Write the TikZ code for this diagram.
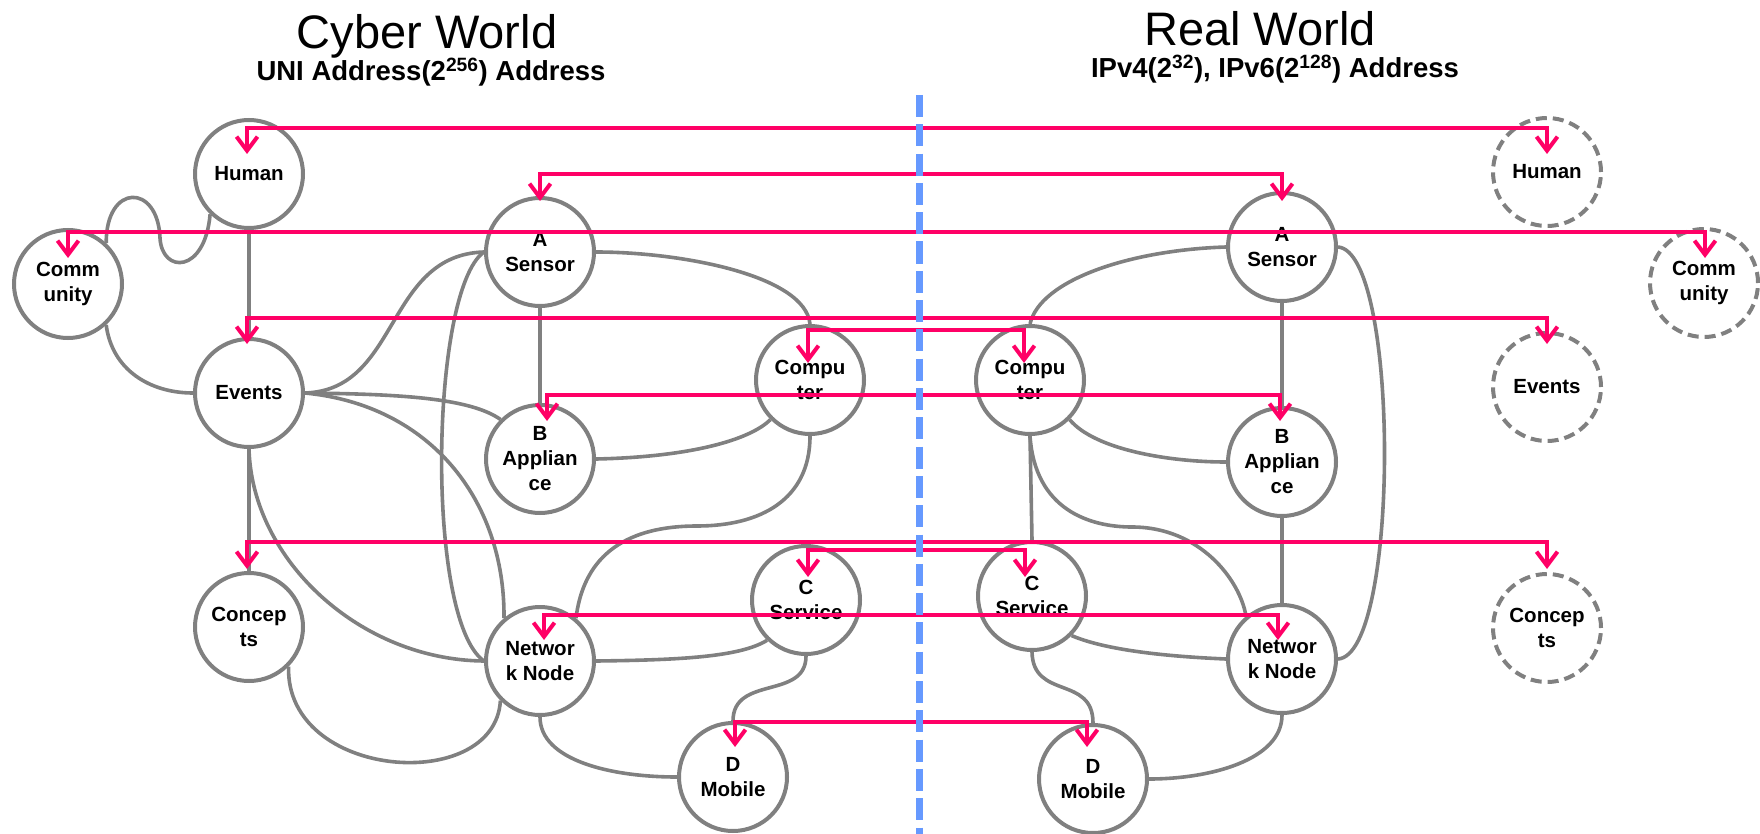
\documentclass[tikz,border=0pt]{standalone}
\usepackage{fontspec}
\setmainfont{Liberation Sans}
\usetikzlibrary{arrows.meta}
\definecolor{linkgray}{HTML}{808080}
\definecolor{tiered}{HTML}{FF0066}
\definecolor{splitblue}{HTML}{6699FF}

\begin{document}
\begin{tikzpicture}[x=1pt,y=-1pt,
  world/.style={circle, draw=linkgray, line width=4pt, fill=white,
    minimum size=108pt, inner sep=0pt, align=center,
    font=\fontsize{20.5}{25}\selectfont\bfseries},
  ghost/.style={world, dash pattern=on 11pt off 6pt},
  link/.style={draw=linkgray, line width=3.6pt},
  tie/.style={draw=tiered, line width=4pt,
    {Straight Barb[length=14pt,width=21pt]}-{Straight Barb[length=14pt,width=21pt]}},
  divider/.style={draw=splitblue, line width=7pt, dash pattern=on 22pt off 7.3pt},
  headline/.style={anchor=base, font=\fontsize{47}{50}\selectfont},
  subline/.style={anchor=base, font=\fontsize{27.5}{30}\selectfont\bfseries},
]
\useasboundingbox (0,0) rectangle (1760,834);

% headings
\node[headline] (cyberTitle) at (427,49) {Cyber World};
\node[subline] (cyberAddr) at (431,81) {UNI Address(2\textsuperscript{256}) Address};
\node[headline] (realTitle) at (1260,46) {Real World};
\node[subline] (realAddr) at (1275,78) {IPv4(2\textsuperscript{32}), IPv6(2\textsuperscript{128}) Address};

% cyber-world entities
\node[world] (cHuman)    at (249,174) {Human};
\node[world] (cComm)     at (68,284)  {Comm\\unity};
\node[world] (cEvents)   at (249,393) {Events};
\node[world] (cConcepts) at (249,627) {Concep\\ts};
\node[world] (cA)        at (540,252) {A\\Sensor};
\node[world] (cB)        at (540,459) {B\\Applian\\ce};
\node[world] (cComp)     at (810,380) {Compu\\ter};
\node[world] (cNet)      at (540,661) {Networ\\k Node};
\node[world] (cServ)     at (806,600) {C\\Service};
\node[world] (cMob)      at (733,777) {D\\Mobile};

% real-world entities
\node[world] (rA)    at (1282,247) {A\\Sensor};
\node[world] (rB)    at (1282,462) {B\\Applian\\ce};
\node[world] (rComp) at (1030,380) {Compu\\ter};
\node[world] (rServ) at (1032,596) {C\\Service};
\node[world] (rNet)  at (1282,659) {Networ\\k Node};
\node[world] (rMob)  at (1093,779) {D\\Mobile};
\node[ghost] (rHuman)    at (1547,172) {Human};
\node[ghost] (rComm)     at (1704,283) {Comm\\unity};
\node[ghost] (rEvents)   at (1547,387) {Events};
\node[ghost] (rConcepts) at (1547,628) {Concep\\ts};

% cyber-world links
\path[link] (cHuman.south) -- (cEvents.north);
\path[link] (cComm.47) .. controls (106,183) and (158,183) .. (160,238)
                       .. controls (162,274) and (205,274) .. (cHuman.226);
\path[link] (cComm.-47) .. controls (112,370) and (150,393) .. (cEvents.west);
\path[link] (cEvents.east) .. controls (400,390) and (385,255) .. (cA.west);
\path[link] (cEvents.east) .. controls (400,394) and (470,398) .. (cB.135);
\path[link] (cEvents.east) .. controls (430,405) and (505,500) .. (cNet.130);
\path[link] (cEvents.south) .. controls (252,560) and (360,660) .. (cNet.west);
\path[link] (cEvents.south) -- (cConcepts.north);
\path[link] (cConcepts.-45) .. controls (285,780) and (495,795) .. (cNet.-135);
\path[link] (cA.west) .. controls (430,290) and (425,620) .. (cNet.west);
\path[link] (cA.south) -- (cB.north);
\path[link] (cA.east) .. controls (680,252) and (805,275) .. (cComp.north);
\path[link] (cB.east) .. controls (690,457) and (750,440) .. (cComp.-135);
\path[link] (cComp.south) .. controls (810,500) and (760,526) .. (697,526)
                          .. controls (610,526) and (582,570) .. (cNet.50);
\path[link] (cNet.east) .. controls (680,660) and (740,657) .. (cServ.-134);
\path[link] (cServ.south) .. controls (806,700) and (733,675) .. (cMob.north);
\path[link] (cNet.south) .. controls (540,760) and (610,777) .. (cMob.west);

% real-world links
\path[link] (rA.south) -- (rB.north);
\path[link] (rB.south) -- (rNet.north);
\path[link] (rA.west) .. controls (1130,250) and (1040,280) .. (rComp.north);
\path[link] (rA.east) .. controls (1400,252) and (1400,655) .. (rNet.east);
\path[link] (rComp.-45) .. controls (1095,450) and (1170,462) .. (rB.west);
\path[link] (rComp.south) -- (rServ.north);
\path[link] (rComp.south) .. controls (1035,510) and (1090,527) .. (1132,527)
                          .. controls (1200,527) and (1240,580) .. (rNet.130);
\path[link] (rServ.-45) .. controls (1110,652) and (1180,657) .. (rNet.west);
\path[link] (rServ.south) .. controls (1033,700) and (1093,675) .. (rMob.north);
\path[link] (rNet.south) .. controls (1282,760) and (1210,779) .. (rMob.east);

% arrow tips of the cyber/real ties
\coordinate (hC) at (247,154);  \coordinate (hR) at (1547,154);
\coordinate (aC) at (540,201);  \coordinate (aR) at (1282,201);
\coordinate (mC) at (68,258);   \coordinate (mR) at (1705,258);
\coordinate (eC) at (247,344);  \coordinate (eR) at (1547,344);
\coordinate (pC) at (808,363);  \coordinate (pR) at (1024,363);
\coordinate (bC) at (547,421);  \coordinate (bR) at (1280,421);
\coordinate (kC) at (247,569);  \coordinate (kR) at (1547,569);
\coordinate (sC) at (808,577);  \coordinate (sR) at (1025,577);
\coordinate (nC) at (544,640);  \coordinate (nR) at (1278,640);
\coordinate (dC) at (735,747);  \coordinate (dR) at (1087,747);

% ties between each cyber entity and its real counterpart
\path[tie] (hC) -- ++(0,-26) -| (hR);
\path[tie] (aC) -- ++(0,-27) -| (aR);
\path[tie] (mC) -- ++(0,-26) -| (mR);
\path[tie] (eC) -- ++(0,-26) -| (eR);
\path[tie] (pC) -- ++(0,-33) -| (pR);
\path[tie] (bC) -- ++(0,-26) -| (bR);
\path[tie] (kC) -- ++(0,-27) -| (kR);
\path[tie] (sC) -- ++(0,-27) -| (sR);
\path[tie] (nC) -- ++(0,-25) -| (nR);
\path[tie] (dC) -- ++(0,-25) -| (dR);

% boundary between the two worlds
\coordinate (divTop) at (919.5,95);
\coordinate (divBot) at (919.5,834);
\path[divider] (divTop) -- (divBot);
\end{tikzpicture}
\end{document}
